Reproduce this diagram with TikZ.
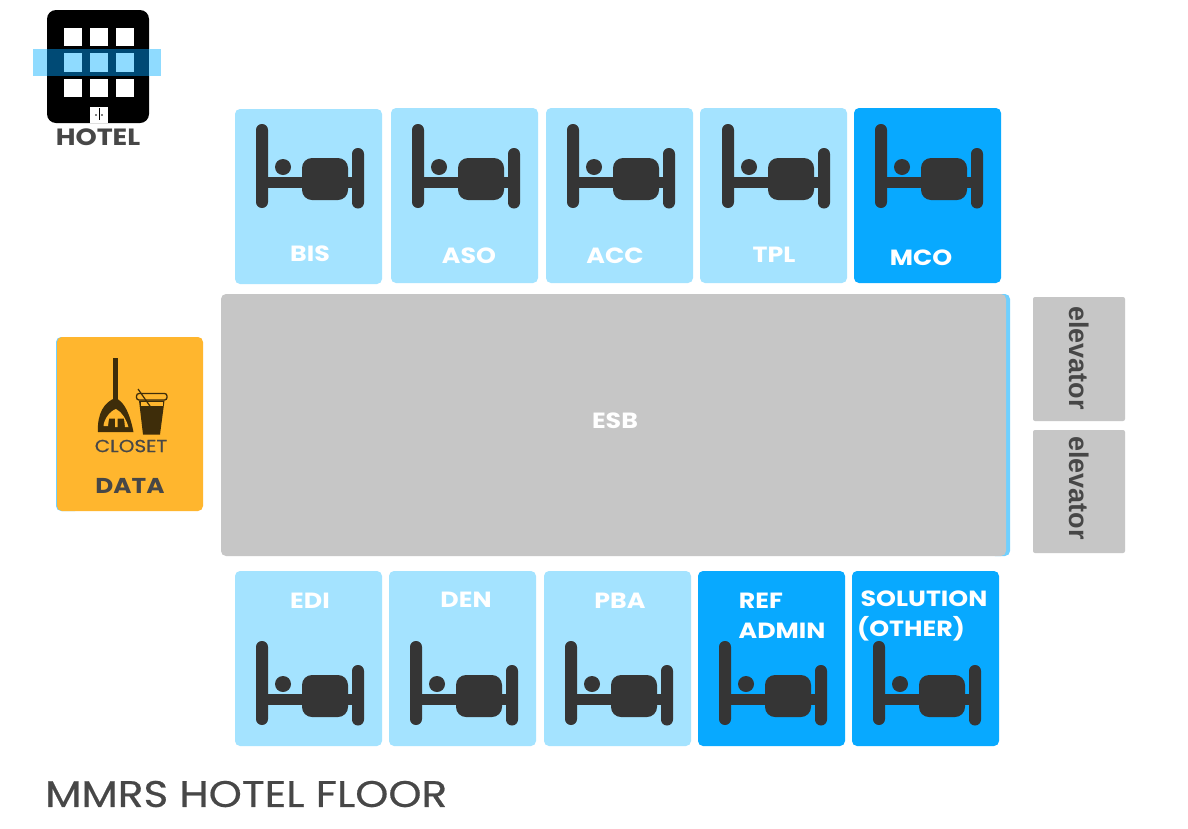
\documentclass[tikz,border=0pt]{standalone}
\usepackage{fontspec}
\setmainfont{Poppins}[FakeStretch=1.15]
\newfontfamily\midfont{Poppins}[FakeStretch=1.14,FakeBold=0.5]
\newfontfamily\elevfont{Liberation Sans}
\definecolor{roomlight}{HTML}{A4E3FF}
\definecolor{roomdark}{HTML}{08A9FF}
\definecolor{bedgrey}{HTML}{353535}
\definecolor{esbgrey}{HTML}{C6C6C6}
\definecolor{edgeblue}{HTML}{6FD0FF}
\definecolor{closetorange}{HTML}{FFB62E}
\definecolor{closetdark}{HTML}{3E2D0A}
\definecolor{textgrey}{HTML}{474747}
\definecolor{bandlight}{HTML}{8FDBFF}
\definecolor{banddark}{HTML}{004A75}
\tikzset{
  x=1pt,y=-1pt,
  box/.style={anchor=north west,inner sep=0pt,outer sep=0pt,rounded corners=5pt},
  lightroom/.style={box,fill=roomlight,minimum width=147pt,minimum height=175pt},
  darkroom/.style={box,fill=roomdark,minimum width=147pt,minimum height=175pt},
  liftbox/.style={box,fill=esbgrey,rounded corners=2pt,minimum width=92pt},
  roomlabel/.style={text=white,font=\fontsize{22}{24}\selectfont\bfseries,inner sep=0pt},
  darklabel/.style={text=textgrey,inner sep=0pt},
  lifttext/.style={text=textgrey,rotate=-90,inner sep=0pt,font=\elevfont\fontsize{27}{29}\selectfont\bfseries},
  bedicon/.pic={
    \fill[bedgrey,rounded corners=5.9pt] (0,0) rectangle (12,84);
    \fill[bedgrey,rounded corners=5.9pt] (96,24) rectangle (108,84.5);
    \fill[bedgrey] (6,53) rectangle (102,64);
    \fill[bedgrey,rounded corners=10pt] (46,34) rectangle (92,76);
    \fill[bedgrey] (27,43) circle (8);
  }
}
\begin{document}
\begin{tikzpicture}
\useasboundingbox (0,0) rectangle (1188,828);
\fill[white] (0,0) rectangle (1188,828);

% hotel icon
\fill[black,rounded corners=9pt] (47,10) rectangle (149,123);
\foreach \wx in {63.5,90,116}{
  \foreach \wy in {28,79}{
    \fill[white] (\wx,\wy) rectangle ++(18.3,18);
  }
}
\fill[bandlight] (33,49) rectangle (161,76);
\fill[banddark] (47,49) rectangle (149,76);
\foreach \wx in {63.5,90,116}{
  \fill[bandlight] (\wx,53) rectangle ++(18.3,18.5);
}
\fill[white] (90,107) rectangle (108,123);
\fill[black] (98.6,108) rectangle (99.6,120);
\fill[black] (96,115) circle (0.9);
\fill[black] (102,115) circle (0.9);
\node[darklabel,font=\fontsize{23.5}{25}\selectfont\bfseries] (hotel) at (98,137) {HOTEL};

% top rooms
\node[lightroom] (bis) at (235,109) {};
\node[lightroom] (aso) at (391,108) {};
\node[lightroom] (acc) at (546,108) {};
\node[lightroom] (tpl) at (700,108) {};
\node[darkroom]  (mco) at (854,108) {};
\foreach \bx in {256,412,567,722,875} \pic at (\bx,124) {bedicon};
\node[roomlabel] (bislabel) at (310,254) {BIS};
\node[roomlabel] (asolabel) at (469,256) {ASO};
\node[roomlabel] (acclabel) at (615,256) {ACC};
\node[roomlabel] (tpllabel) at (774,255) {TPL};
\node[roomlabel] (mcolabel) at (921,258) {MCO};

% corridor
\fill[edgeblue,rounded corners=5pt] (990,294) rectangle (1010,556);
\node[box,fill=esbgrey,minimum width=785pt,minimum height=262pt] (esb) at (221,294) {};
\node[roomlabel] (esblabel) at (615,421) {ESB};

% elevators
\node[liftbox,minimum height=124pt] (lift1) at (1033,297) {};
\node[liftbox,minimum height=123pt] (lift2) at (1033,430) {};
\node[lifttext] (lift1label) at (1079,358) {elevator};
\node[lifttext] (lift2label) at (1079,488) {elevator};

% closet
\fill[edgeblue,rounded corners=5pt] (56,337) rectangle (80,511);
\node[box,fill=closetorange,minimum width=146pt,minimum height=174pt] (closet) at (57,337) {};
\fill[closetdark] (113.2,358) rectangle (118,402);
\fill[closetdark]
  (98,432) .. controls (97,414) and (104,402) .. (115.5,398) .. controls (125,402) and (130,415) .. (133.5,432) -- cycle;
\fill[closetorange]
  (103.5,426) .. controls (104,419) and (110,411) .. (116,409) .. controls (122,412) and (126,419) .. (128.5,427)
  -- (125,427) -- (124,418.5) -- (117.5,418.5) -- (117.5,427) -- (115,427) -- (115,418.5) -- (109,418.5) -- (108,426) -- cycle;
\draw[closetdark,line width=1.3pt,rounded corners=2.5pt] (136.5,393.5) rectangle (167,400);
\fill[closetdark] (139,400.5) -- (143,434.5) -- (160,434.5) -- (164.5,400.5) -- cycle;
\fill[closetorange] (140.5,401.5) rectangle (163,406);
\draw[closetdark,line width=1.2pt] (138,389) -- (152,409);
\node[darklabel,font=\midfont\fontsize{17.5}{19}\selectfont] (closetlabel) at (131,446) {CLOSET};
\node[darklabel,font=\fontsize{21.5}{24}\selectfont\bfseries] (datalabel) at (130,486) {DATA};

% bottom rooms
\node[lightroom] (edi) at (235,571) {};
\node[lightroom] (den) at (389,571) {};
\node[lightroom] (pba) at (544,571) {};
\node[darkroom]  (ref) at (698,571) {};
\node[darkroom]  (sol) at (852,571) {};
\foreach \bx in {256,410,565,719,873} \pic at (\bx,641) {bedicon};
\node[roomlabel] (edilabel) at (310,601) {EDI};
\node[roomlabel] (denlabel) at (466,600) {DEN};
\node[roomlabel] (pbalabel) at (620,601) {PBA};
\node[roomlabel] (reflabel) at (761,601) {REF};
\node[roomlabel] (adminlabel) at (782,631) {ADMIN};
\node[roomlabel] (sollabel) at (924,599) {SOLUTION};
\node[roomlabel] (otherlabel) at (911,629) {(OTHER)};

% title
\node[darklabel,anchor=west,font=\midfont\fontsize{37}{40}\selectfont] (title) at (45,794) {MMRS HOTEL FLOOR};
\end{tikzpicture}
\end{document}
